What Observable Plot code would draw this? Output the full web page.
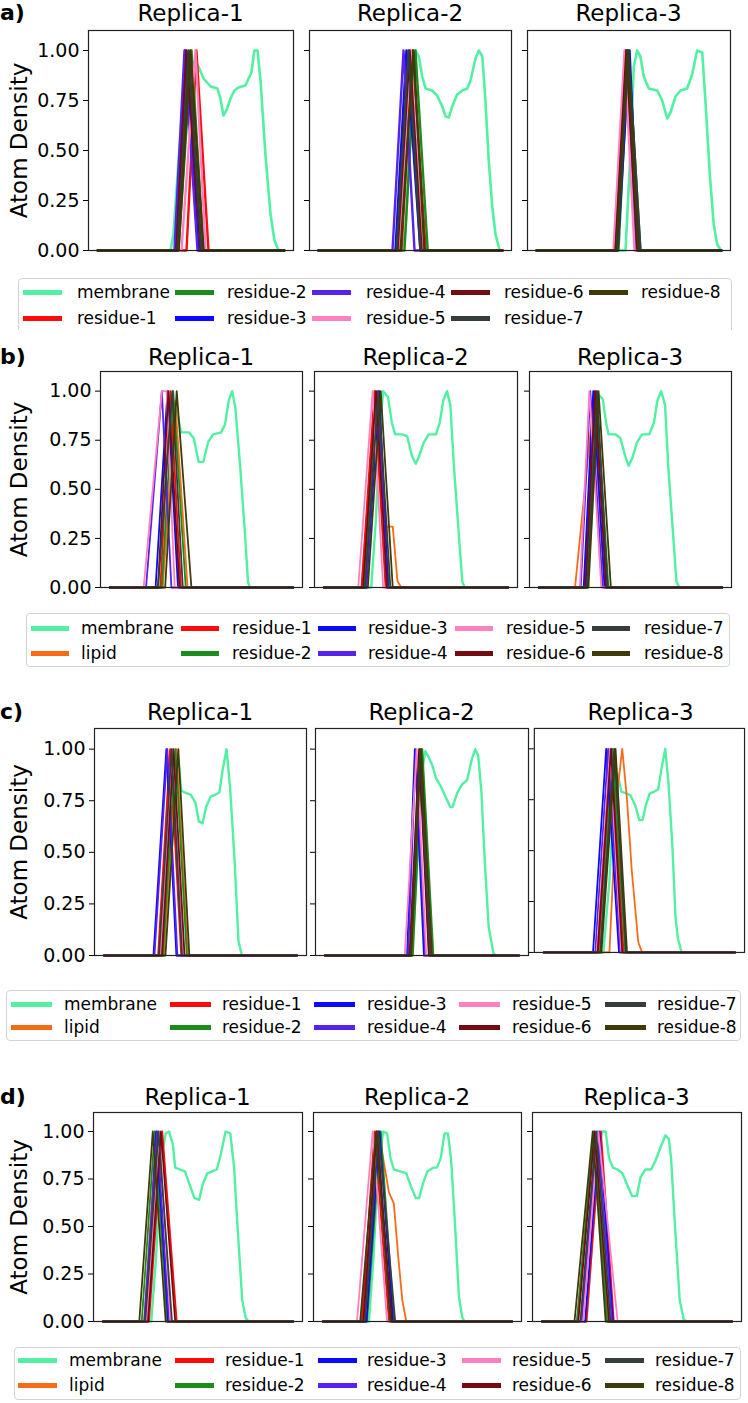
<!DOCTYPE html>
<html><head><meta charset="utf-8">
<script src="https://cdn.jsdelivr.net/npm/d3@7"></script>
<script src="https://cdn.jsdelivr.net/npm/@observablehq/plot@0.6"></script>
<style>
body{margin:0;background:#fff;}
#fig{position:relative;width:748px;height:1403px;overflow:hidden;font-family:"DejaVu Sans",sans-serif;color:#000;background:#fff;}
.title{position:absolute;width:220px;font-size:23px;text-align:center;line-height:26px;white-space:nowrap;}
.letter{position:absolute;left:0;font-size:22px;font-weight:bold;line-height:26px;}
.legclip{position:absolute;overflow:hidden;}
.legbox{position:absolute;border:1.3px solid #cfd4d4;border-radius:4px;background:#fff;box-sizing:border-box;}
.handle{position:absolute;height:5px;}
.ltxt{position:absolute;font-size:17px;line-height:22px;white-space:nowrap;}
.panel{position:absolute;}
</style></head><body><div id="fig"></div>
<script>
// ---------- data ----------
const replicas = ["Replica-1", "Replica-2", "Replica-3"];
const rowLetters = ["a)", "b)", "c)", "d)"];
const seriesNames = ["membrane", "lipid", "residue-1", "residue-2", "residue-3", "residue-4", "residue-5", "residue-6", "residue-7", "residue-8"];
const seriesColors = ["#52f0a2", "#fa6a14", "#ff0a0a", "#1c8c1c", "#0a0aff", "#5522ee", "#ff80c0", "#700c12", "#353d3d", "#3f3a0a"];
const yTicks = [0, 0.25, 0.5, 0.75, 1.0];

// membrane density profiles [x, density] for replica 1..3
const membraneA = [
  [[0,0],[39.0,0],[40.6,0.08],[43.3,0.45],[46.5,0.85],[49.7,0.95],[53.5,0.93],[56.7,0.86],[60.5,0.82],[64.2,0.81],[65.8,0.76],[67.4,0.675],[69.0,0.70],[71.2,0.76],[73.3,0.80],[75.5,0.815],[79.2,0.825],[82.4,0.89],[84.0,1.0],[85.7,1.0],[87.3,0.85],[90.0,0.47],[92.7,0.18],[94.8,0.05],[97.0,0],[100,0]],
  [[0,0],[45.6,0],[47.3,0.1],[49.4,0.5],[51.1,0.9],[52.7,1.0],[54.5,0.97],[56.4,0.87],[58.2,0.81],[61.8,0.80],[64.5,0.775],[67.3,0.72],[69.1,0.67],[70.9,0.665],[72.7,0.72],[75.4,0.78],[78.2,0.80],[80.9,0.81],[82.7,0.85],[85.4,0.96],[87.2,1.0],[89.1,0.97],[90.8,0.75],[92.6,0.45],[94.5,0.22],[96.3,0.08],[98.6,0],[100,0]],
  [[0,0],[48.1,0],[50.3,0.4],[52.6,0.92],[54.4,1.0],[56.2,0.97],[58.0,0.87],[60.7,0.81],[65.3,0.80],[68.0,0.75],[70.7,0.66],[72.5,0.69],[75.2,0.77],[77.9,0.80],[81.5,0.81],[84.2,0.88],[86.9,1.0],[89.7,0.99],[91.4,0.75],[93.8,0.38],[95.9,0.13],[97.8,0.03],[99.9,0],[100,0]]
];
const membraneB = [
  [[0,0],[27.6,0],[31.5,0.3],[34.6,0.7],[36.7,0.9],[38.8,0.79],[43.2,0.79],[45.8,0.76],[48.4,0.64],[51.0,0.64],[53.6,0.74],[56.3,0.78],[60.7,0.79],[62.8,0.83],[64.8,0.95],[66.7,1.0],[68.5,0.91],[71.1,0.61],[73.7,0.27],[75.3,0.03],[76.3,0],[100,0]],
  [[0,0],[25.7,0],[28.3,0.35],[30.4,0.8],[32.2,1.0],[34.8,0.97],[36.9,0.84],[38.7,0.78],[42.6,0.78],[45.2,0.77],[47.8,0.67],[49.9,0.63],[51.7,0.67],[54.3,0.74],[56.9,0.78],[60.8,0.78],[62.9,0.84],[64.7,0.95],[66.8,1.0],[68.6,0.93],[70.6,0.61],[73.2,0.27],[75.1,0.03],[76.4,0],[100,0]],
  [[0,0],[26.3,0],[28.9,0.35],[31.0,0.8],[32.8,0.98],[34.9,0.96],[36.7,0.84],[38.0,0.78],[41.9,0.78],[44.5,0.76],[47.1,0.67],[49.0,0.62],[51.0,0.66],[53.6,0.74],[56.3,0.78],[60.2,0.78],[62.8,0.84],[64.6,0.95],[66.7,1.0],[68.8,0.93],[70.6,0.61],[73.2,0.27],[75.0,0.03],[76.6,0],[100,0]]
];
const membraneC = [
  [[0,0],[29.3,0],[33.0,0.3],[36.0,0.75],[38.5,0.95],[40.0,0.80],[41.7,0.79],[44.9,0.78],[47.4,0.74],[49.1,0.65],[51.1,0.64],[52.9,0.72],[55.3,0.77],[57.8,0.78],[59.8,0.79],[61.5,0.90],[63.5,1.0],[65.3,0.82],[67.7,0.46],[69.7,0.07],[71.5,0],[100,0]],
  [[0,0],[44.8,0],[47.3,0.4],[49.3,0.85],[51.7,0.99],[53.5,0.96],[55.4,0.92],[57.2,0.86],[59.7,0.82],[62.1,0.77],[64.6,0.72],[65.8,0.72],[68.3,0.79],[70.8,0.83],[73.3,0.85],[75.7,0.95],[77.5,1.0],[79.0,0.97],[80.7,0.79],[82.4,0.46],[84.4,0.14],[86.9,0.01],[88.1,0],[100,0]],
  [[0,0],[31.1,0],[34.3,0.35],[36.8,0.8],[38.5,0.88],[40.5,0.79],[43.5,0.78],[45.4,0.77],[47.9,0.72],[49.9,0.65],[51.6,0.65],[53.3,0.72],[55.3,0.78],[57.8,0.79],[59.8,0.80],[61.5,0.90],[63.5,1.0],[65.2,0.83],[67.2,0.53],[68.9,0.17],[70.1,0.07],[72.1,0],[100,0]]
];
const membraneD = [
  [[0,0],[25.4,0],[28.0,0.35],[30.5,0.85],[33.0,0.99],[34.8,1.0],[36.8,0.93],[38.0,0.81],[40.6,0.80],[43.1,0.79],[45.6,0.72],[48.1,0.65],[50.6,0.64],[52.4,0.72],[54.9,0.78],[57.4,0.79],[59.9,0.80],[62.0,0.88],[64.5,1.0],[67.0,0.99],[69.0,0.81],[70.8,0.50],[73.3,0.11],[75.1,0.02],[76.6,0],[100,0]],
  [[0,0],[24.3,0],[26.8,0.35],[29.4,0.85],[31.9,1.0],[33.9,0.99],[35.7,0.86],[37.5,0.80],[40.8,0.79],[44.1,0.78],[46.6,0.71],[49.1,0.65],[50.9,0.65],[52.7,0.72],[55.2,0.79],[58.5,0.81],[60.3,0.81],[62.3,0.86],[64.3,0.99],[66.1,0.99],[67.8,0.85],[69.9,0.50],[71.9,0.13],[73.7,0.02],[74.9,0],[100,0]],
  [[0,0],[23.4,0],[25.9,0.35],[28.5,0.85],[31.7,1.0],[33.5,1.0],[35.3,0.86],[37.3,0.81],[39.8,0.80],[42.3,0.78],[44.8,0.72],[47.4,0.66],[49.9,0.66],[51.9,0.76],[54.4,0.80],[57.4,0.80],[59.9,0.85],[62.5,0.92],[65.0,0.98],[66.8,0.96],[68.0,0.85],[70.0,0.50],[72.5,0.11],[74.6,0.01],[76.1,0],[100,0]]
];

// residue peaks [start, peak, (peak end,) end] for residue-1..8, replica 1..3
const residuesA = [
  [[47.6,52.9,59.4],[43.3,50.3,56.7],[41.7,47.0,54.0],[41.1,46.5,53.5],[44.9,52.4,57.8],[42.2,47.6,55.1],[42.8,48.7,55.6],[43.3,49.7,56.7]],
  [[45.1,51.1,58.3],[46.7,52.7,59.4],[41.8,47.8,55.4],[40.2,46.2,52.2],[43.5,50.0,56.5],[42.9,49.5,56.0],[42.4,48.9,55.4],[44.6,51.6,57.6]],
  [[43.2,48.6,54.1],[44.3,49.7,56.2],[43.8,50.3,55.1],[42.1,48.1,53.5],[41.6,47.6,53.0],[42.7,48.6,54.6],[43.8,49.7,56.2],[43.2,49.2,55.1]]
];
const residuesB = [
  [[27.6,33.1,38.8],[28.4,34.6,41.4],[25.0,31.5,37.2],[19.8,28.4,33.6],[18.5,28.4,31.0,35.4],[26.3,32.0,38.0],[26.3,34.1,39.8],[30.2,36.5,44.5]],
  [[20.5,27.5,33.5],[21.8,28.6,35.3],[23.1,30.1,34.8],[22.9,29.4,34.3],[18.7,26.5,32.2],[21.3,28.3,34.3],[22.3,29.6,36.1],[23.9,30.9,37.4]],
  [[25.0,30.2,37.5],[26.0,31.3,38.0],[24.5,29.7,35.9],[22.9,28.1,34.9],[22.4,27.6,34.1],[25.5,30.7,36.7],[26.6,31.8,37.5],[27.1,32.6,39.3]]
];
const residuesC = [
  [[28.0,34.2,40.0],[30.5,37.0,42.9],[25.6,32.3,37.5],[26.1,32.8,38.0],[29.3,35.5,40.9],[30.0,36.0,41.7],[28.5,35.0,40.4],[31.8,38.5,44.2]],
  [[44.8,49.8,54.7],[45.3,50.2,55.9],[42.3,46.3,51.0],[42.8,46.8,51.7],[41.1,47.3,52.2],[43.6,48.5,53.5],[44.3,49.0,54.2],[44.3,49.5,55.2]],
  [[28.6,35.6,41.7],[29.4,36.0,42.5],[25.7,32.6,39.3],[26.9,33.6,40.0],[27.7,34.6,40.5],[28.1,35.1,41.0],[29.6,36.8,43.0],[30.1,37.5,43.5]]
];
const residuesD = [
  [[24.2,31.2,38.8],[20.4,27.2,33.8],[22.9,28.0,34.3],[21.7,28.5,34.8],[22.9,29.7,35.5],[23.7,30.5,38.0],[22.2,29.2,36.3],[19.1,26.2,33.0]],
  [[20.5,27.3,34.9],[23.3,30.6,37.5],[23.0,29.9,37.0],[21.8,28.9,35.7],[18.0,26.3,33.9],[21.3,28.4,36.5],[22.3,29.4,38.2],[19.7,28.1,35.7]],
  [[23.4,31.0,37.8],[18.4,27.2,34.3],[22.7,30.2,37.3],[20.9,29.2,36.8],[21.7,29.7,39.8],[19.1,27.7,35.3],[20.2,28.5,36.0],[17.1,26.7,33.5]]
];

// lipid density profiles [x, density]
const lipidB = [
  [[0,0],[28.9,0],[35.7,0.95],[42.4,0],[100,0]],
  [[0,0],[20.5,0],[28.1,1.0],[33.5,0.31],[37.4,0.31],[40.0,0.03],[42.1,0],[100,0]],
  [[0,0],[19.8,0],[29.7,0.93],[35.9,0],[100,0]]
];
const lipidC = [
  [[0,0],[31.0,0],[37.5,1.0],[43.4,0],[100,0]],
  [[0,0],[43.8,0],[48.8,1.0],[53.7,0],[100,0]],
  [[0,0],[34.3,0],[38.0,0.75],[41.0,1.0],[43.5,0.75],[46.0,0.4],[49.4,0.05],[51.4,0],[100,0]]
];
const lipidD = [
  [[0,0],[21.7,0],[28.0,1.0],[33.8,0],[100,0]],
  [[0,0],[20.5,0],[29.4,1.0],[34.9,0.68],[37.5,0.62],[40.0,0.32],[42.0,0.11],[44.1,0],[100,0]],
  [[0,0],[18.4,0],[27.2,0.95],[34.8,0],[100,0]]
];

// legend column order
const legendColsA = [["membrane","residue-1"],["residue-2","residue-3"],["residue-4","residue-5"],["residue-6","residue-7"],["residue-8"]];
const legendColsBCD = [["membrane","lipid"],["residue-1","residue-2"],["residue-3","residue-4"],["residue-5","residue-6"],["residue-7","residue-8"]];

// ---------- layout ----------
const colorOf = Object.fromEntries(seriesNames.map((s, i) => [s, seriesColors[i]]));

const rows = [
  {top: 30, bottom: 250, titleY: 13, frames: [[88,293],[309,511],[527,730]], membrane: membraneA, residues: residuesA, lipid: null, mw: 2.6, rw: 2.4,
   legend: {box: [18,278,714,70], clipBottom: 330, rowsY: [292,318], handleX: [23,175,312,451,589], handleW: 39, textX: [77,227,366,504,641], cols: legendColsA}},
  {top: 371, bottom: 587, titleY: 357, frames: [[100,302],[314,517],[529,731]], membrane: membraneB, residues: residuesB, lipid: lipidB, mw: 2.4, rw: 1.8,
   legend: {box: [26,613,704,54], clipBottom: null, rowsY: [628,653], handleX: [31,181,318,455,592], handleW: 38, textX: [81,232,368,506,644], cols: legendColsBCD}},
  {top: 728, bottom: 955, titleY: 712, frames: [[94,306],[315,528],[534,747]], membrane: membraneC, residues: residuesC, lipid: lipidC, mw: 2.4, rw: 1.8,
   legend: {box: [6,990,735,51], clipBottom: null, rowsY: [1004,1027], handleX: [11,170,314,459,605], handleW: 41, textX: [64,222,367,512,657], cols: legendColsBCD}},
  {top: 1112, bottom: 1321, titleY: 1097, frames: [[93,302],[313,521],[532,741]], membrane: membraneD, residues: residuesD, lipid: lipidD, mw: 2.4, rw: 1.8,
   legend: {box: [14,1347,727,53], clipBottom: null, rowsY: [1360,1385], handleX: [18,175,318,462,605], handleW: 39, textX: [69,225,367,512,655], cols: legendColsBCD}}
];

const fig = document.getElementById("fig");

function peakPoints(p) {
  if (p.length === 3) return [[0,0],[p[0],0],[p[1],1],[p[2],0],[100,0]];
  return [[0,0],[p[0],0],[p[1],1],[p[2],1],[p[3],0],[100,0]];
}

function addDiv(cls, style, text) {
  const d = document.createElement("div");
  d.className = cls;
  Object.assign(d.style, style);
  if (text != null) d.textContent = text;
  return d;
}

rows.forEach((row, r) => {
  fig.appendChild(addDiv("letter", {top: (row.titleY - 13) + "px"}, rowLetters[r]));
  row.frames.forEach(([L, R], i) => {
    fig.appendChild(addDiv("title", {left: ((L + R) / 2 - 110) + "px", top: (row.titleY - 13) + "px"}, replicas[i]));
    const first = i === 0;
    const mL = first ? L : 12, mR = 4, mT = 4, mB = 4;
    const marks = [];
    marks.push(Plot.line(row.membrane[i], {x: d => d[0], y: d => d[1], stroke: colorOf["membrane"], strokeWidth: row.mw}));
    if (row.lipid) marks.push(Plot.line(row.lipid[i], {x: d => d[0], y: d => d[1], stroke: colorOf["lipid"], strokeWidth: row.rw}));
    row.residues[i].forEach((p, k) => {
      marks.push(Plot.line(peakPoints(p), {x: d => d[0], y: d => d[1], stroke: colorOf["residue-" + (k + 1)], strokeWidth: row.rw}));
    });
    marks.push(Plot.frame({stroke: "#222", strokeWidth: 1.2}));
    if (first) {
      marks.push(Plot.text(["Atom Density"], {text: d => d, frameAnchor: "left", textAnchor: "middle", lineAnchor: "middle", dx: -(L - 19), rotate: -90, fontSize: 23, fill: "#000"}));
    }
    const svg = Plot.plot({
      width: (R - L) + mL + mR,
      height: (row.bottom - row.top) + mT + mB,
      marginLeft: mL, marginRight: mR, marginTop: mT, marginBottom: mB,
      x: {domain: [-5, 105], axis: null},
      y: {domain: [0, 1.1], ticks: yTicks, tickFormat: first ? d3.format(".2f") : () => "", tickSize: 5, label: null},
      style: {fontSize: "19px", fontFamily: "DejaVu Sans", color: "#000", background: "transparent", overflow: "visible"},
      marks
    });
    const wrap = addDiv("panel", {left: (L - mL) + "px", top: (row.top - mT) + "px"});
    wrap.appendChild(svg);
    fig.appendChild(wrap);
  });

  const lg = row.legend;
  const [bx, by, bw, bh] = lg.box;
  const clip = addDiv("legclip", {left: bx + "px", top: by + "px", width: bw + "px", height: ((lg.clipBottom ? lg.clipBottom : by + bh) - by) + "px"});
  clip.appendChild(addDiv("legbox", {left: "0px", top: "0px", width: bw + "px", height: bh + "px"}));
  lg.cols.forEach((col, c) => {
    col.forEach((name, k) => {
      const y = lg.rowsY[k] - by;
      clip.appendChild(addDiv("handle", {left: (lg.handleX[c] - bx) + "px", top: (y - 2.5) + "px", width: lg.handleW + "px", background: colorOf[name]}));
      clip.appendChild(addDiv("ltxt", {left: (lg.textX[c] - bx) + "px", top: (y - 11) + "px"}, name));
    });
  });
  fig.appendChild(clip);
});
</script></body></html>
